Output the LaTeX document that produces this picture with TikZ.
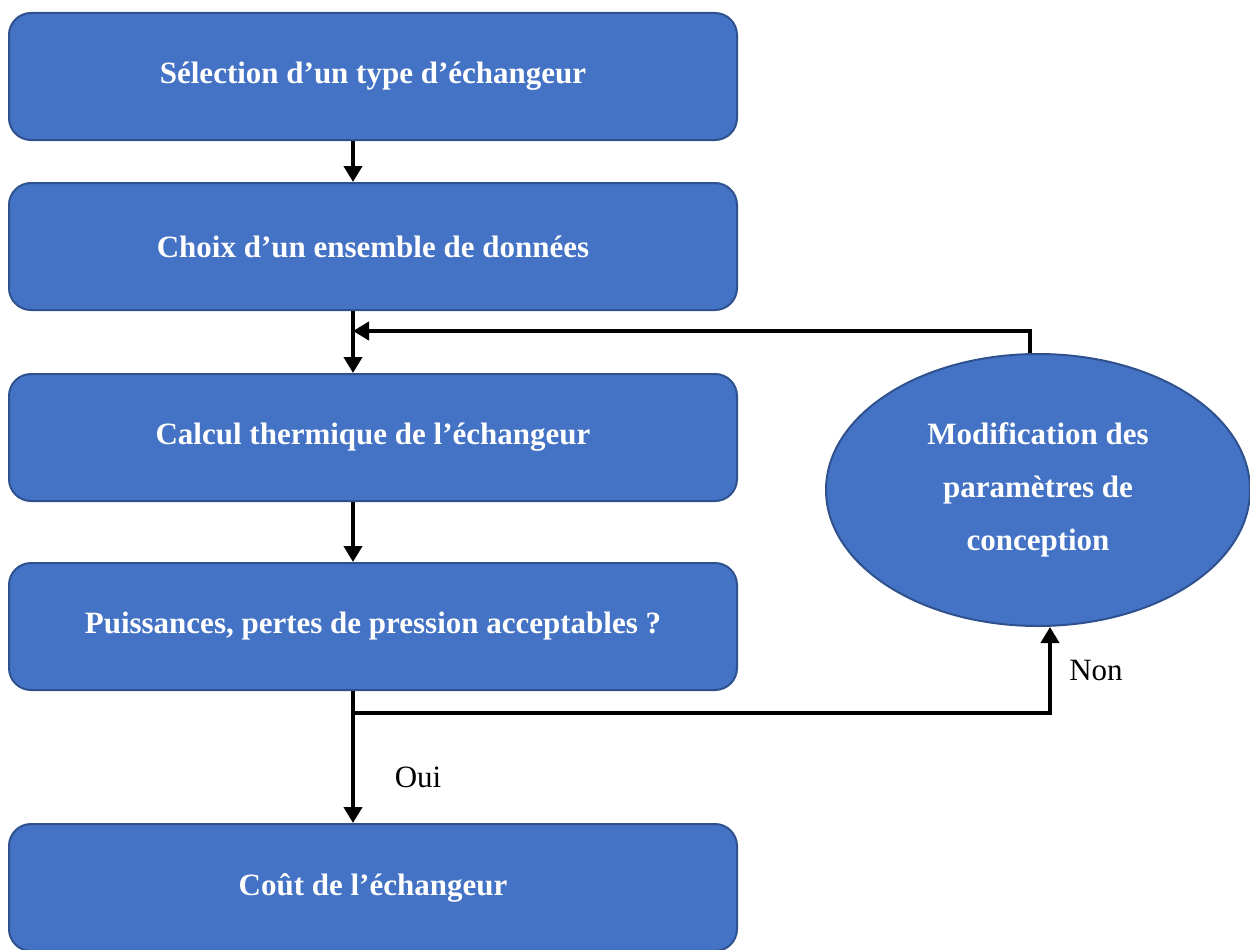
\documentclass[tikz,border=0pt]{standalone}
\usepackage{fontspec}
\setmainfont{Liberation Serif}
\usetikzlibrary{arrows.meta,shapes.geometric}
\definecolor{boxfill}{HTML}{4472C4}
\definecolor{boxedge}{HTML}{2F528F}
\tikzset{
  stepbox/.style={draw=boxedge, line width=2pt, fill=boxfill, rounded corners=22pt,
    minimum width=728pt, minimum height=127pt, inner sep=0pt,
    text=white, font=\fontsize{31}{36}\selectfont\bfseries},
  modell/.style={draw=boxedge, line width=2pt, fill=boxfill, ellipse,
    minimum width=424pt, minimum height=272pt, inner sep=0pt,
    text=white, align=center, font=\fontsize{31}{53}\selectfont\bfseries},
  conn/.style={line width=4pt, -{Triangle[length=16pt,width=18pt]}},
  lbl/.style={font=\fontsize{31}{36}\selectfont, inner sep=0pt}
}
\begin{document}
\begin{tikzpicture}[x=1pt,y=-1pt]
\useasboundingbox (0,0) rectangle (1250,950);
\node[stepbox] (b1) at (373,76.5) {Sélection d’un type d’échangeur};
\node[stepbox] (b2) at (373,246.5) {Choix d’un ensemble de données};
\node[stepbox] (b3) at (373,437.5) {Calcul thermique de l’échangeur};
\node[stepbox] (b4) at (373,626.5) {Puissances, pertes de pression acceptables ?};
\node[stepbox] (b5) at (373,887.5) {Coût de l’échangeur};
\node[modell] (ell) at (1038,490) {Modification des\\paramètres de\\conception};
\coordinate (ax) at (353,0);
\coordinate (fb) at (353,331);
\coordinate (br) at (353,713);
\draw[conn] (b1.south -| ax) -- (b2.north -| ax);
\draw[conn] (b2.south -| ax) -- (b3.north -| ax);
\draw[conn] (b3.south -| ax) -- (b4.north -| ax);
\draw[conn] (b4.south -| ax) -- (b5.north -| ax);
\draw[conn] ([xshift=-8pt]ell.north) |- (fb);
\draw[conn] (br) -| ([xshift=12pt]ell.south);
\node[lbl] (oui) at (418,777) {Oui};
\node[lbl] (non) at (1096,670) {Non};
\end{tikzpicture}
\end{document}
